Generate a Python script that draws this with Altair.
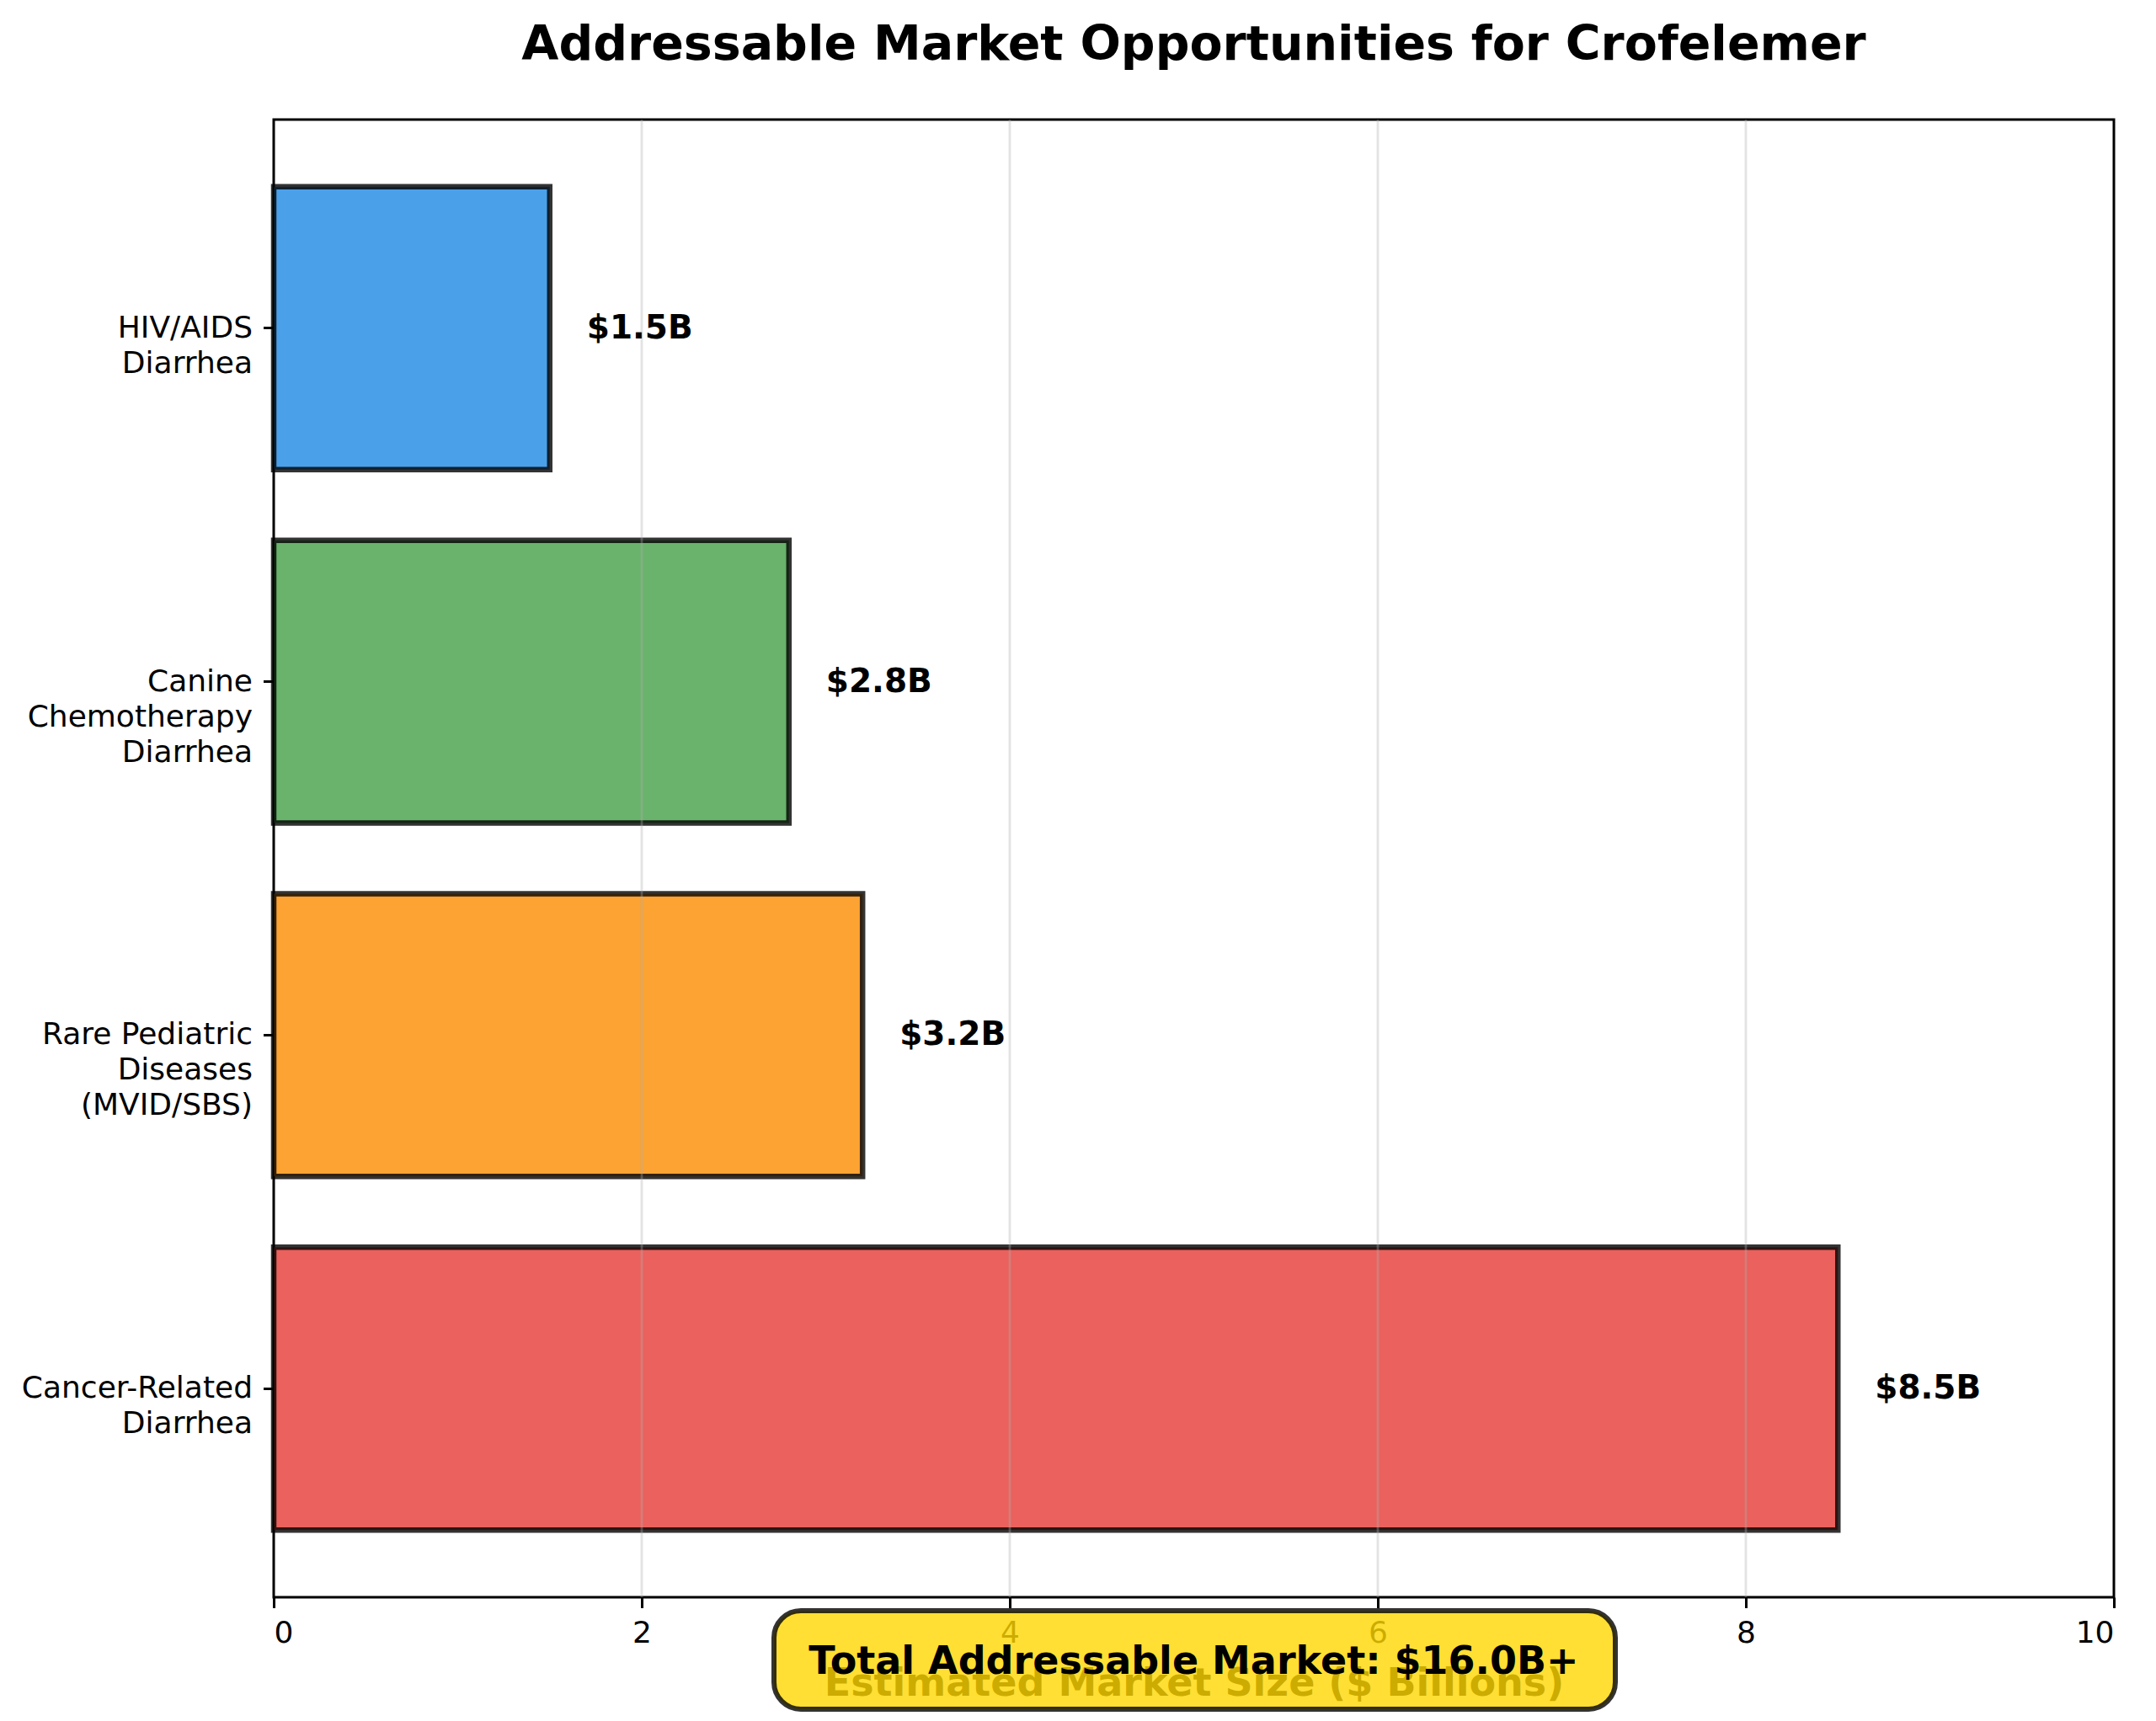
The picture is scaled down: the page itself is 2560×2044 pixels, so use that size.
import altair as alt
import pandas as pd

categories = [
    "HIV/AIDS\nDiarrhea",
    "Canine\nChemotherapy\nDiarrhea",
    "Rare Pediatric\nDiseases\n(MVID/SBS)",
    "Cancer-Related\nDiarrhea",
]
values = [1.5, 2.8, 3.2, 8.5]
colors = ["#1E88E5", "#43A047", "#FB8C00", "#E53935"]
x_ticks = [0, 2, 4, 6, 8, 10]
grid_ticks = [2, 4, 6, 8]

total = sum(values)
df = pd.DataFrame({
    "cat": categories,
    "val": values,
    "label": [f"${v:.1f}B" for v in values],
})
grid_df = pd.DataFrame({"g": grid_ticks})
box_df = pd.DataFrame({"t": [f"Total Addressable Market: ${total:.1f}B+"]})

FONT = "DejaVu Sans"
W, H = 2185, 1755

xscale = alt.Scale(domain=[0, 10], nice=False, zero=True)
yscale = alt.Scale(domain=categories, paddingInner=0.2, paddingOuter=0.19)

bars = alt.Chart(df).mark_bar(
    fillOpacity=0.8, stroke="black", strokeOpacity=0.8, strokeWidth=6.5
).encode(
    x=alt.X("val:Q", scale=xscale,
            axis=alt.Axis(values=x_ticks, title="Estimated Market Size ($ Billions)",
                          grid=False, format="d", labelPadding=13, titlePadding=20)),
    y=alt.Y("cat:N", scale=yscale, sort=categories,
            axis=alt.Axis(title=None, labelExpr="split(datum.value, '\\n')",
                          labelLineHeight=42, labelAlign="right", labelBaseline="middle",
                          labelLimit=0, labelPadding=13)),
    color=alt.Color("cat:N", scale=alt.Scale(domain=categories, range=colors), legend=None),
)

grid = alt.Chart(grid_df).mark_rule(color="#b0b0b0", opacity=0.35, strokeWidth=2.8).encode(
    x=alt.X("g:Q", scale=xscale),
)

labels = alt.Chart(df).mark_text(
    align="left", baseline="middle", dx=44, font=FONT, fontSize=39, fontWeight="bold", color="black"
).encode(
    x=alt.X("val:Q", scale=xscale),
    y=alt.Y("cat:N", scale=yscale, sort=categories),
    text="label:N",
)

box = alt.Chart(box_df).mark_rect(
    fill="#FFD700", fillOpacity=0.8, stroke="#000000", strokeOpacity=0.8, strokeWidth=6,
    cornerRadius=32, clip=False
).encode(
    x=alt.value(594), x2=alt.value(1593), y=alt.value(1771), y2=alt.value(1888),
)

box_text = alt.Chart(box_df).mark_text(
    align="center", baseline="middle", font=FONT, fontSize=46, fontWeight="bold", color="black"
).encode(
    x=alt.value(1092.5), y=alt.value(1832), text="t:N",
)

chart = alt.layer(bars, grid, labels, box, box_text).properties(
    width=W, height=H,
    title=alt.TitleParams(
        "Addressable Market Opportunities for Crofelemer",
        font=FONT, fontSize=57, fontWeight="bold", color="black",
        anchor="middle", frame="group", offset=13, baseline="alphabetic",
    ),
    autosize=alt.AutoSizeParams(type="none"),
    padding={"left": 317, "top": 134, "right": 30, "bottom": 136},
).configure_view(
    stroke="black", strokeWidth=3,
).configure_axis(
    labelFont=FONT, labelFontSize=36, labelColor="black",
    titleFont=FONT, titleFontSize=46, titleFontWeight="bold", titleColor="black",
    tickColor="black", tickWidth=3, tickSize=12.5, domain=False,
)

chart.save("out.html", embed_options={"renderer": "svg", "actions": False})
